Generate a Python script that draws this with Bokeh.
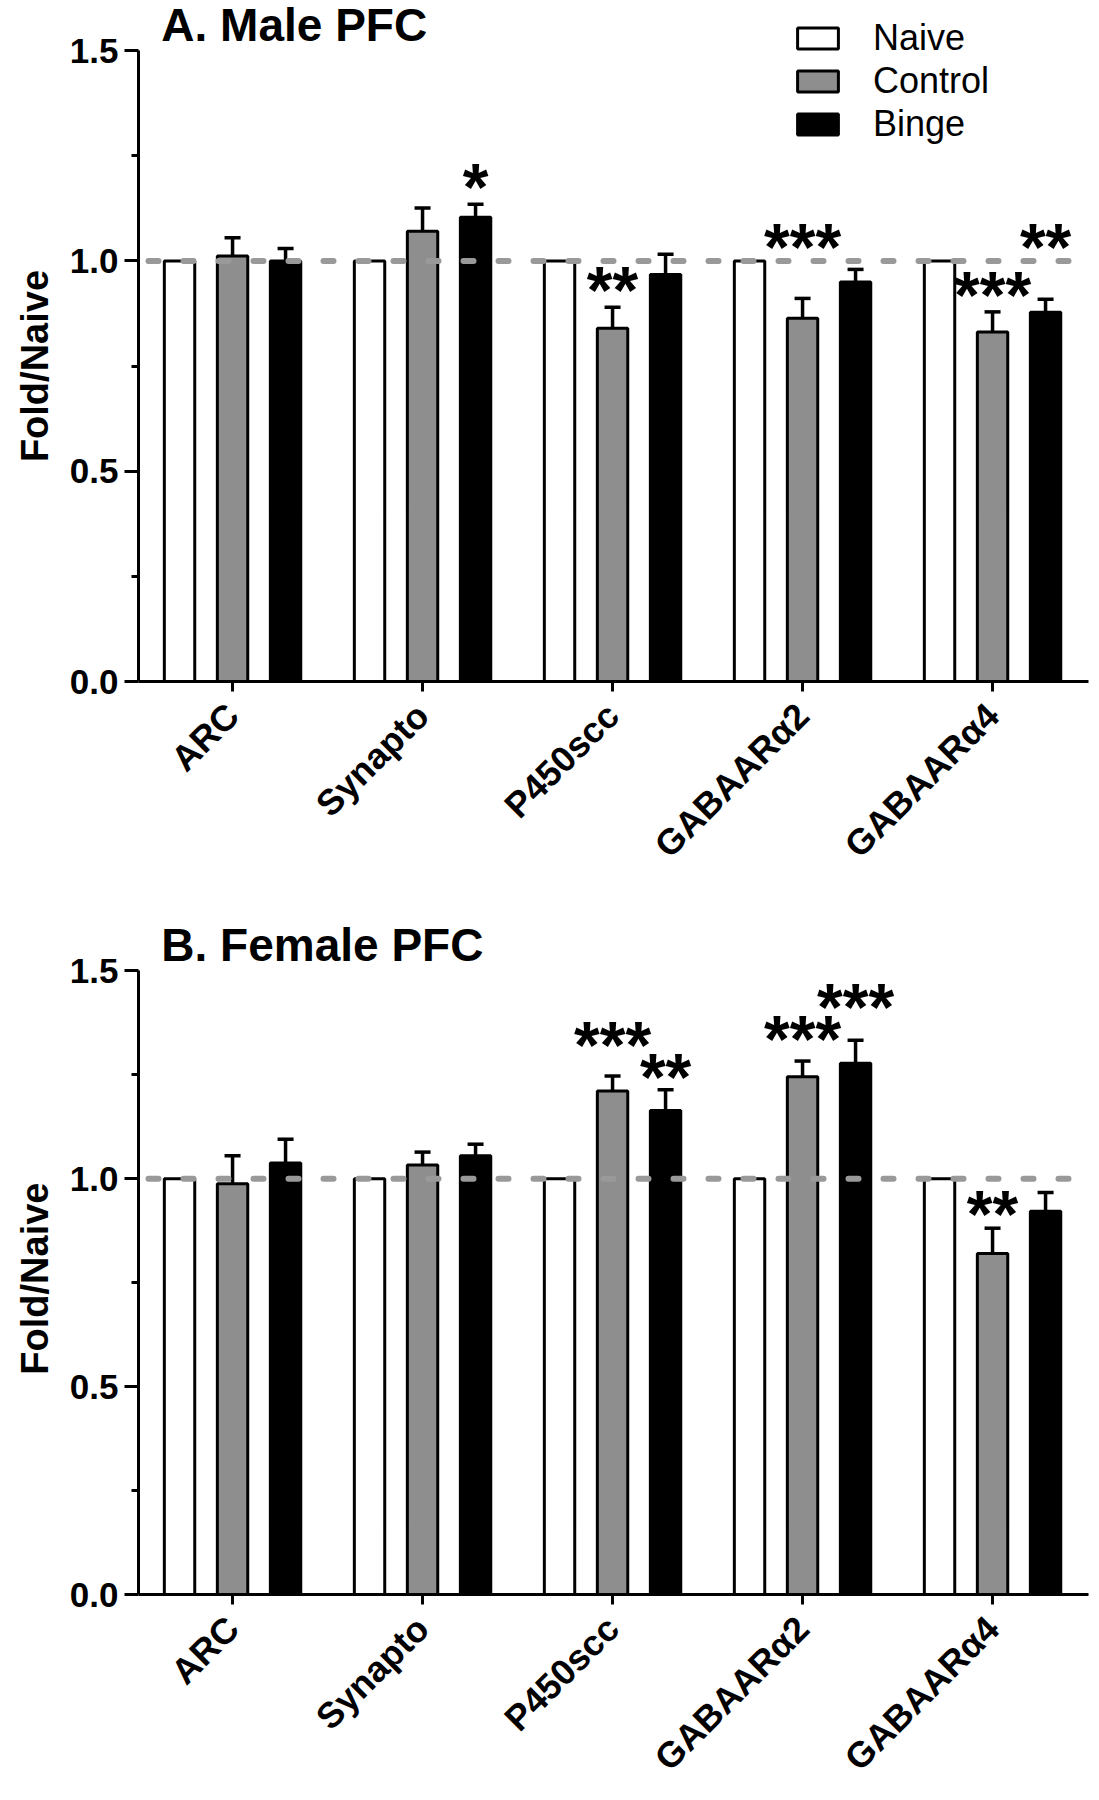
import math
from bokeh.plotting import figure
from bokeh.models import (FixedTicker, PrintfTickFormatter, Whisker, TeeHead, Span,
                          Legend, LegendItem, Label, Title, ColumnDataSource, Range1d)
from bokeh.layouts import column
from bokeh.embed import file_html
from bokeh.resources import INLINE
from bokeh.core.properties import value

# ---------------- data ----------------
genes = ["ARC", "Synapto", "P450scc", "GABAARα2", "GABAARα4"]
series = ["Naive", "Control", "Binge"]

male_naive = [1.0, 1.0, 1.0, 1.0, 1.0]
male_control = [1.012, 1.071, 0.840, 0.864, 0.831]
male_control_err = [0.043, 0.055, 0.050, 0.047, 0.048]
male_binge = [1.000, 1.104, 0.968, 0.950, 0.878]
male_binge_err = [0.030, 0.031, 0.048, 0.030, 0.031]

female_naive = [1.0, 1.0, 1.0, 1.0, 1.0]
female_control = [0.988, 1.033, 1.211, 1.245, 0.820]
female_control_err = [0.067, 0.031, 0.036, 0.038, 0.061]
female_binge = [1.038, 1.055, 1.164, 1.278, 0.922]
female_binge_err = [0.057, 0.028, 0.050, 0.055, 0.045]

# significance marks: (gene, series, stars, level)
male_sig = [("Synapto", "Binge", "*", 1.188),
            ("P450scc", "Control", "**", 0.942),
            ("GABAARα2", "Control", "***", 1.046),
            ("GABAARα4", "Control", "***", 0.930),
            ("GABAARα4", "Binge", "**", 1.044)]
female_sig = [("P450scc", "Control", "***", 1.333),
              ("P450scc", "Binge", "**", 1.257),
              ("GABAARα2", "Control", "***", 1.347),
              ("GABAARα2", "Binge", "***", 1.425),
              ("GABAARα4", "Control", "**", 0.926)]

# ---------------- style ----------------
FONT_NAME = "Liberation Sans"
FONT = value(FONT_NAME)
OFFS = {"Naive": -0.279, "Control": 0.0, "Binge": 0.279}
FILLS = {"Naive": "white", "Control": "#8e8e8e", "Binge": "black"}
BAR_W = 0.16


def make_panel(title, naive, control, control_err, binge, binge_err, sig,
               height, y_end, bottom_border, with_legend):
    p = figure(width=1091, height=height, output_backend="svg", toolbar_location=None,
               x_range=Range1d(-0.495, 4.505), y_range=Range1d(0, y_end),
               min_border_left=138, min_border_right=3, min_border_top=0,
               min_border_bottom=bottom_border)
    p.outline_line_color = None
    p.xgrid.visible = False
    p.ygrid.visible = False
    p.background_fill_color = "white"
    p.border_fill_color = "white"

    renderers = {}
    vals = {"Naive": (naive, None), "Control": (control, control_err), "Binge": (binge, binge_err)}
    for s in series:
        v, e = vals[s]
        xs = [i + OFFS[s] for i in range(len(genes))]
        src = ColumnDataSource(dict(x=xs, top=v))
        r = p.vbar(x="x", top="top", width=BAR_W, bottom=0, source=src,
                   fill_color=FILLS[s], line_color="black", line_width=3)
        renderers[s] = r
        if e is not None:
            esrc = ColumnDataSource(dict(x=xs, lower=v, upper=[a + b for a, b in zip(v, e)]))
            w = Whisker(source=esrc, base="x", lower="lower", upper="upper",
                        dimension="height", line_color="black", line_width=3.5,
                        upper_head=TeeHead(size=16, line_color="black", line_width=3.5),
                        lower_head=None, level="annotation")
            p.add_layout(w)

    # reference line at 1.0
    p.add_layout(Span(location=1.0, dimension="width", line_color="#999999",
                      line_width=6, line_dash="10 25", line_cap="round",
                      line_dash_offset=-10, level="overlay"))

    # significance stars
    sx = [genes.index(g) + OFFS[s] for g, s, t, y in sig]
    sy = [y for g, s, t, y in sig]
    st = [t for g, s, t, y in sig]
    p.text(x=sx, y=sy, text=st, text_font=FONT, text_font_style="bold",
           text_font_size="66px", text_align="center", text_baseline="alphabetic",
           y_offset=5, text_color="black")

    # panel title (inside the frame, top left)
    p.add_layout(Label(x=-0.375, y=1.561, text=title, text_font=FONT_NAME,
                       text_font_style="bold", text_font_size="46px",
                       text_color="black",
                       text_align="left", text_baseline="alphabetic"))

    # y axis
    ya = p.yaxis[0]
    ya.bounds = (0, 1.5)
    ya.ticker = FixedTicker(ticks=[0, 0.5, 1.0, 1.5], minor_ticks=[0.25, 0.75, 1.25])
    ya.formatter = PrintfTickFormatter(format="%.1f")
    ya.axis_line_width = 3
    ya.major_tick_line_width = 3
    ya.minor_tick_line_width = 3
    ya.major_tick_out = 14
    ya.major_tick_in = 0
    ya.minor_tick_out = 7
    ya.minor_tick_in = 0
    ya.major_label_text_font = FONT_NAME
    ya.major_label_text_font_style = "bold"
    ya.major_label_text_font_size = "35px"
    ya.major_label_text_color = "black"
    ya.major_label_standoff = 6

    # y axis title, placed along the 0..1.5 span of the axis
    frame_bottom_to_text_start = 0.75 * (height - bottom_border) / y_end - 96
    p.add_layout(Title(text="Fold/Naive", align="left",
                       offset=frame_bottom_to_text_start, standoff=22,
                       text_font=FONT_NAME, text_font_style="bold",
                       text_font_size="38px", text_color="black"), "left")

    # x axis
    xa = p.xaxis[0]
    xa.ticker = FixedTicker(ticks=list(range(len(genes))), minor_ticks=[])
    xa.major_label_overrides = {i: g for i, g in enumerate(genes)}
    xa.major_label_orientation = math.pi / 4
    xa.axis_line_width = 3
    xa.major_tick_line_width = 3
    xa.major_tick_out = 10
    xa.major_tick_in = 0
    xa.minor_tick_line_color = None
    xa.major_label_text_font = FONT_NAME
    xa.major_label_text_font_style = "bold"
    xa.major_label_text_font_size = "36px"
    xa.major_label_text_color = "black"
    xa.major_label_standoff = 18

    if with_legend:
        items = [LegendItem(label=s, renderers=[renderers[s]]) for s in series]
        leg = Legend(items=items, location=(654, 536),
                     glyph_width=51, glyph_height=26, label_height=26, spacing=1,
                     label_standoff=30, padding=0, margin=0,
                     border_line_alpha=0, background_fill_alpha=0,
                     label_text_font=FONT_NAME, label_text_font_size="36px",
                     label_text_color="black")
        p.add_layout(leg)
    return p


p1 = make_panel("A. Male PFC", male_naive, male_control, male_control_err,
                male_binge, male_binge_err, male_sig,
                height=888, y_end=1.6195, bottom_border=207, with_legend=True)
p2 = make_panel("B. Female PFC", female_naive, female_control, female_control_err,
                female_binge, female_binge_err, female_sig,
                height=908, y_end=1.698, bottom_border=193, with_legend=False)

layout = column(p1, p2)
open("out.html", "w").write(file_html(layout, INLINE))
